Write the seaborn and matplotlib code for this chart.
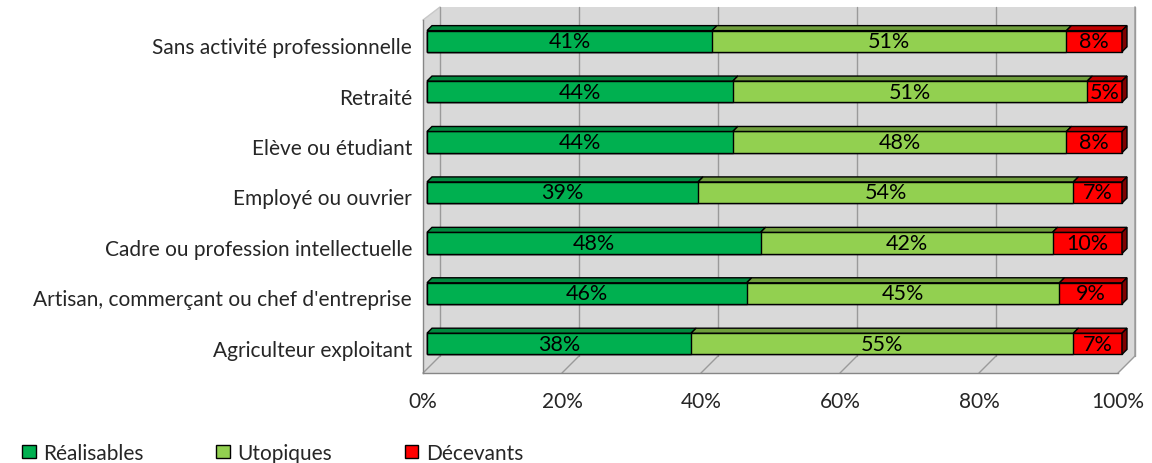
import matplotlib.pyplot as plt
import numpy as np
import pandas as pd
import seaborn as sns
from matplotlib.patches import Patch, Polygon

categories = [
    "Sans activité professionnelle",
    "Retraité",
    "Elève ou étudiant",
    "Employé ou ouvrier",
    "Cadre ou profession intellectuelle",
    "Artisan, commerçant ou chef d'entreprise",
    "Agriculteur exploitant",
]
realisables = [41, 44, 44, 39, 48, 46, 38]
utopiques = [51, 51, 48, 54, 42, 45, 55]
decevants = [8, 5, 8, 7, 10, 9, 7]

series_names = ["Réalisables", "Utopiques", "Décevants"]
front_colors = ["#00B050", "#92D050", "#FF0000"]
top_colors = ["#008A3E", "#6F9E3C", "#C00000"]
side_color = "#7F0000"
wall_color = "#D9D9D9"
grid_color = "#9A9A9A"

sns.set_style("white")
plt.rcParams["font.family"] = ["Lato", "DejaVu Sans"]

df = pd.DataFrame({
    "categorie": categories,
    "Réalisables": realisables,
    "Utopiques": utopiques,
    "Décevants": decevants,
})
df["cum1"] = df["Réalisables"]
df["cum2"] = df["cum1"] + df["Utopiques"]
df["cum3"] = df["cum2"] + df["Décevants"]

W, H = 1152, 464
fig = plt.figure(figsize=(W / 100, H / 100), dpi=100)
ax_w, ax_h = 695, 353
ax = fig.add_axes([423 / W, (H - 374) / H, ax_w / W, ax_h / H])

n = len(categories)
bar_h = 0.42
# stacked bars: draw cumulative totals, biggest first
for col, c in zip(["cum3", "cum2", "cum1"], front_colors[::-1]):
    sns.barplot(data=df, y="categorie", x=col, color=c, orient="h", width=bar_h,
                saturation=1, edgecolor="black", linewidth=1, ax=ax, zorder=3)

ax.set_xlim(0, 100)
ax.set_ylim(n - 0.5, -0.5)

# pixel -> data conversions for the fake 3D look
dxp = 100 / ax_w
dyp = n / ax_h
ox, oy = 4 * dxp, 4 * dyp      # bar front offset from front plane
dx, dy = 5 * dxp, 5 * dyp      # bar depth
bx, by = 17 * dxp, 17 * dyp    # wall depth
top_back = -0.5 - 13 * dyp

for p in ax.patches:
    p.set_x(p.get_x() + ox)
    p.set_y(p.get_y() - oy)
    p.set_clip_on(False)

# walls and floor
back = Polygon([(bx, n - 0.5 - by), (100 + bx, n - 0.5 - by), (100 + bx, top_back), (bx, top_back)],
               closed=True, facecolor=wall_color, edgecolor="none", zorder=0, clip_on=False)
left = Polygon([(0, n - 0.5), (0, -0.5), (bx, top_back), (bx, n - 0.5 - by)],
               closed=True, facecolor=wall_color, edgecolor="none", zorder=0, clip_on=False)
floor = Polygon([(0, n - 0.5), (100, n - 0.5), (100 + bx, n - 0.5 - by), (bx, n - 0.5 - by)],
                closed=True, facecolor=wall_color, edgecolor="none", zorder=0, clip_on=False)
for patch in (back, left, floor):
    ax.add_patch(patch)
ax.plot([100 + bx, 100 + bx], [n - 0.5 - by, top_back], color="#A6A6A6", lw=1.2, zorder=0.5, clip_on=False)
ax.plot([0, bx], [-0.5, top_back], color="#C8C8C8", lw=1, zorder=0.5, clip_on=False)

for t in range(0, 101, 20):
    ax.plot([t + bx, t + bx], [n - 0.5 - by, top_back], color=grid_color, lw=1, zorder=0.5, clip_on=False)
    ax.plot([t, t + bx], [n - 0.5, n - 0.5 - by], color=grid_color, lw=1, zorder=0.5, clip_on=False)

# top faces, right face and labels
for i in range(n):
    vals = [realisables[i], utopiques[i], decevants[i]]
    edges = np.concatenate([[0], np.cumsum(vals)])
    y_top = i - bar_h / 2 - oy
    y_bot = i + bar_h / 2 - oy
    for k in range(3):
        x0, x1 = edges[k] + ox, edges[k + 1] + ox
        ax.add_patch(Polygon([(x0, y_top), (x1, y_top), (x1 + dx, y_top - dy), (x0 + dx, y_top - dy)],
                             closed=True, facecolor=top_colors[k], edgecolor="black", lw=1,
                             zorder=3, clip_on=False))
        ax.text((x0 + x1) / 2, i - oy, f"{vals[k]}%", ha="center", va="center",
                fontsize=15.5, color="black", zorder=4, clip_on=False)
    xr = edges[-1] + ox
    ax.add_patch(Polygon([(xr, y_top), (xr + dx, y_top - dy), (xr + dx, y_bot - dy), (xr, y_bot)],
                         closed=True, facecolor=side_color, edgecolor="black", lw=1,
                         zorder=3, clip_on=False))

ax.set_xticks(range(0, 101, 20))
ax.set_xticklabels([f"{t}%" for t in range(0, 101, 20)], fontsize=15)
ax.set_yticks(range(n))
ax.set_yticklabels(categories, fontsize=15)
ax.set_yticks(np.arange(-0.5, n, 1), minor=True)
ax.tick_params(axis="y", which="major", length=0, pad=8)
ax.tick_params(axis="y", which="minor", length=5, color="#868686", direction="out")
ax.tick_params(axis="x", length=5, color="#868686", direction="out", pad=8)
ax.set_xlabel("")
ax.set_ylabel("")
for s in ["top", "right"]:
    ax.spines[s].set_visible(False)
for s in ["left", "bottom"]:
    ax.spines[s].set_color("#868686")
    ax.spines[s].set_linewidth(1)
    ax.spines[s].set_zorder(1)
ax.set_facecolor("none")

handles = [Patch(facecolor=c, edgecolor="black", label=l) for c, l in zip(front_colors, series_names)]
fig.legend(handles=handles, loc="lower left", bbox_to_anchor=(0.003, -0.04), ncol=3, frameon=False,
           fontsize=15, handlelength=0.65, handleheight=0.65, handletextpad=0.35, columnspacing=3.5)

fig.savefig("out.png", dpi=100)
